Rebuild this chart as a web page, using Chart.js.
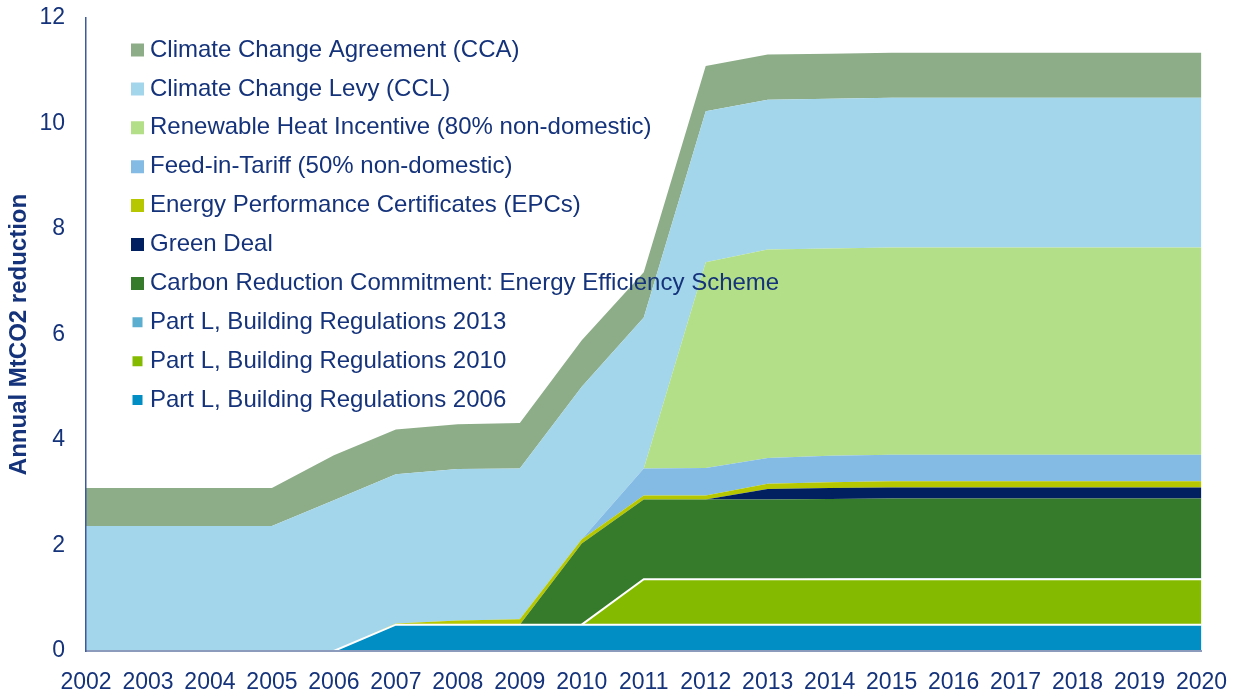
<!DOCTYPE html>
<html>
<head>
<meta charset="utf-8">
<script src="https://cdn.jsdelivr.net/npm/chart.js@4.4.1/dist/chart.umd.min.js"></script>
<style>
  html, body { margin: 0; padding: 0; background: #ffffff; }
  #wrap { width: 1235px; height: 695px; position: relative; }
</style>
</head>
<body>
<div id="wrap"><canvas id="c"></canvas></div>
<script>
// ---- Data (MtCO2 annual reduction) ----
const years = ['2002','2003','2004','2005','2006','2007','2008','2009','2010','2011',
               '2012','2013','2014','2015','2016','2017','2018','2019','2020'];

const partL2006  = [0,0,0,0,0,0.5,0.5,0.5,0.5,0.5,0.5,0.5,0.5,0.5,0.5,0.5,0.5,0.5,0.5];
const partL2010  = [0,0,0,0,0,0,0,0,0,0.86,0.86,0.86,0.86,0.86,0.86,0.86,0.86,0.86,0.86];
const partL2013  = [0,0,0,0,0,0,0,0,0,0,0,0,0.01,0.02,0.02,0.02,0.02,0.02,0.02];
const crc        = [0,0,0,0,0,0,0,0,1.54,1.51,1.51,1.51,1.51,1.51,1.51,1.51,1.51,1.51,1.51];
const greenDeal  = [0,0,0,0,0,0,0,0,0,0,0,0.2,0.21,0.21,0.21,0.21,0.21,0.21,0.21];
const epc        = [0,0,0,0,0,0.02,0.08,0.1,0.08,0.08,0.08,0.1,0.11,0.12,0.12,0.12,0.12,0.12,0.12];
const fit        = [0,0,0,0,0,0,0,0,0,0.51,0.52,0.49,0.5,0.5,0.5,0.5,0.5,0.5,0.5];
const rhi        = [0,0,0,0,0,0,0,0,0,0,3.9,3.95,3.93,3.93,3.93,3.93,3.93,3.93,3.93];
const ccl        = [2.37,2.37,2.37,2.37,2.86,2.83,2.87,2.86,2.89,2.86,2.86,2.84,2.84,2.84,2.84,2.84,2.84,2.84,2.84];
const cca        = [0.72,0.72,0.72,0.72,0.85,0.85,0.85,0.86,0.88,0.86,0.86,0.86,0.85,0.85,0.85,0.85,0.85,0.85,0.85];

const seriesLabels = [
  'Part L, Building Regulations 2006',
  'Part L, Building Regulations 2010',
  'Part L, Building Regulations 2013',
  'Carbon Reduction Commitment: Energy Efficiency Scheme',
  'Green Deal',
  'Energy Performance Certificates (EPCs)',
  'Feed-in-Tariff (50% non-domestic)',
  'Renewable Heat Incentive (80% non-domestic)',
  'Climate Change Levy (CCL)',
  'Climate Change Agreement (CCA)'
];
const seriesValues = [partL2006, partL2010, partL2013, crc, greenDeal, epc, fit, rhi, ccl, cca];
const yTicks = [0, 2, 4, 6, 8, 10, 12];

// ---- Styles ----
const colors = ['#008EC4', '#84BB00', '#5BAED0', '#367A2B', '#002060',
                '#B6C700', '#84BBE4', '#B3DF88', '#A3D6EB', '#8DAD88'];
const legendBoxLine = [9, 9, 9, 12, 12, 12, 12, 12, 12, 12];
const navy = '#15337A';
const FONT = "'Liberation Sans', Arial, sans-serif";
const LEG_FONT = 24;
const LEG_PAD = 14.9;

const hideZeroSeg = (ctx) =>
  (ctx.p0.raw === 0 && ctx.p1.raw === 0) ? 'rgba(0,0,0,0)' : undefined;

const datasets = seriesValues.map((vals, i) => {
  const white = (i === 0 || i === 1);
  return {
    label: seriesLabels[i],
    data: vals,
    backgroundColor: colors[i],
    borderColor: white ? '#ffffff' : colors[i],
    borderWidth: white ? 2 : 0,
    fill: i === 0 ? 'origin' : '-1',
    pointRadius: 0,
    pointHoverRadius: 0,
    tension: 0,
    segment: white ? { borderColor: hideZeroSeg } : undefined
  };
});

// Place the legend inside the plot area (top-left) and draw it above the areas
const legendPlacer = {
  id: 'legendPlacer',
  afterInit(chart) {
    const lg = chart.legend;
    if (lg) {
      lg._layers = () => [{ z: 10, draw: () => lg.draw() }];
    }
  },
  beforeDraw(chart) {
    const lg = chart.legend;
    if (!lg) return;
    lg.left = 137 - LEG_PAD;
    lg.top = 50 - LEG_FONT / 2 - LEG_PAD;
    lg.right = lg.left + lg.width;
    lg.bottom = lg.top + lg.height;
  }
};

new Chart(document.getElementById('c'), {
  type: 'line',
  data: { labels: years, datasets },
  plugins: [legendPlacer],
  options: {
    responsive: true,
    maintainAspectRatio: false,
    animation: false,
    layout: { padding: { left: 0, right: 33.5, top: 18, bottom: 0 } },
    plugins: {
      tooltip: { enabled: false },
      legend: {
        position: 'chartArea',
        align: 'start',
        reverse: true,
        labels: {
          boxWidth: 1,
          boxHeight: 1,
          padding: LEG_PAD,
          color: navy,
          font: { family: FONT, size: LEG_FONT },
          generateLabels: (chart) => chart.data.datasets.map((ds, i) => ({
            text: ds.label,
            fillStyle: colors[i],
            strokeStyle: colors[i],
            lineWidth: legendBoxLine[i],
            lineCap: 'butt',
            lineJoin: 'miter',
            lineDash: [],
            lineDashOffset: 0,
            hidden: false,
            fontColor: navy,
            datasetIndex: i
          }))
        }
      }
    },
    scales: {
      x: {
        type: 'category',
        offset: false,
        grid: { display: false, drawTicks: false },
        border: { display: true, color: '#8C9BBB', width: 2, z: 1 },
        ticks: {
          color: navy,
          font: { family: FONT, size: 23 },
          padding: 18,
          maxRotation: 0,
          autoSkip: false
        },
        afterFit: (s) => { s.height = 44; s.paddingLeft = 0; s.paddingRight = 0; }
      },
      y: {
        stacked: true,
        min: 0,
        max: 12,
        grid: { display: false, drawTicks: false },
        border: { display: true, color: '#3D5B9B', width: 1.5, z: 1 },
        afterBuildTicks: (s) => { s.ticks = yTicks.map(v => ({ value: v })); },
        ticks: {
          color: navy,
          font: { family: FONT, size: 23 },
          padding: 21
        },
        title: {
          display: true,
          text: 'Annual MtCO2 reduction',
          color: navy,
          font: { family: FONT, size: 24, weight: 'bold' },
          padding: { top: 5, bottom: 0 }
        },
        afterFit: (s) => { s.width = 86; s.paddingTop = 0; s.paddingBottom = 0; }
      }
    }
  }
});
</script>
</body>
</html>
